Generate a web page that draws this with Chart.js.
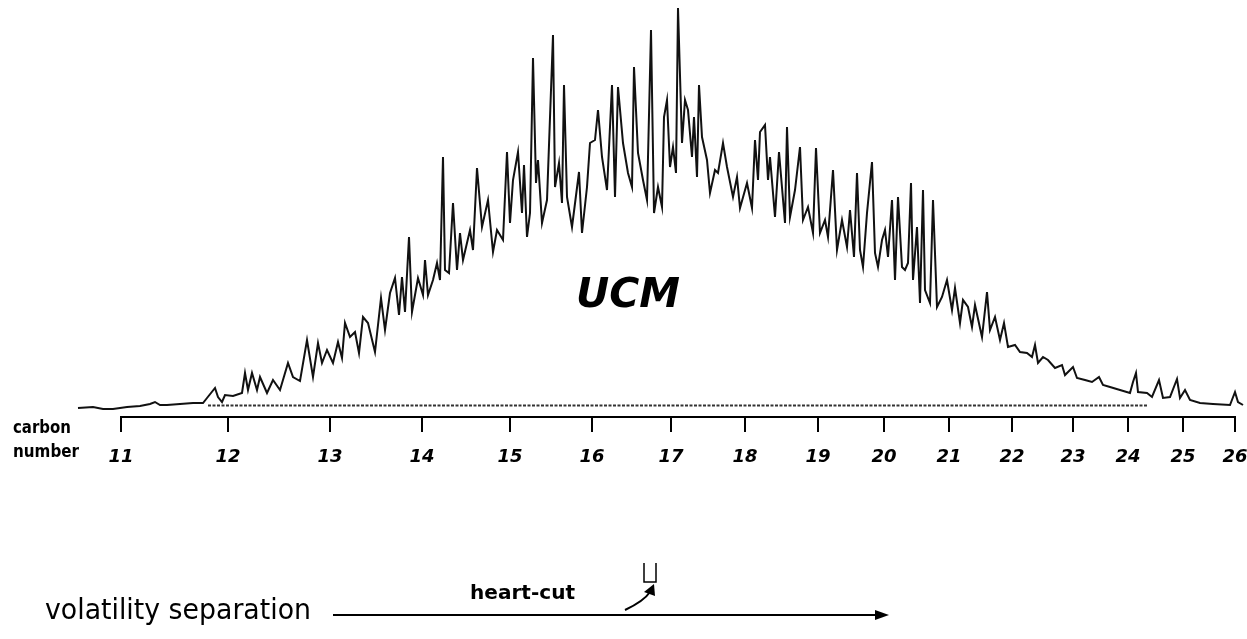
<!DOCTYPE html>
<html>
<head>
<meta charset="utf-8">
<script src="https://cdn.jsdelivr.net/npm/chart.js@4/dist/chart.umd.min.js"></script>
<style>
  html, body { margin: 0; padding: 0; background: #fff; }
  #wrap { width: 1247px; height: 639px; }
</style>
</head>
<body>
<div id="wrap"><canvas id="gc" width="1247" height="639"></canvas></div>
<script>
// carbon number scale (retention positions of the n-alkanes)
const carbonNumbers = [11, 12, 13, 14, 15, 16, 17, 18, 19, 20, 21, 22, 23, 24, 25, 26];
const carbonRT = [121, 228, 330, 422, 510, 592, 671, 745, 818, 884, 949, 1012, 1073, 1128, 1183, 1235];

// chromatogram trace
const retentionTime = [78,93,103,113,127,140,150,155,160,167,180,193,203,207,215,218,222,225,233,242,
  245,248,252,257,260,267,273,280,288,293,300,307,313,318,322,327,333,338,342,345,
  350,355,359,363,368,375,381,385,390,395,399,402,405,409,412,418,423,425,428,433,
  437,440,443,445,449,453,457,460,463,470,473,477,482,488,493,497,503,507,510,513,
  518,522,524,527,530,533,536,538,542,547,553,555,559,562,564,567,572,579,582,587,
  590,595,598,602,607,612,615,618,623,628,632,634,638,643,647,651,654,658,662,664,
  667,670,673,676,678,682,685,688,692,694,697,699,702,707,710,715,718,723,727,733,
  737,740,747,752,755,758,760,765,768,770,775,779,785,787,790,795,800,803,808,813,
  816,820,825,828,833,837,842,847,850,854,857,860,863,867,872,875,878,882,885,888,
  892,895,898,902,905,908,911,913,917,920,923,925,930,933,937,942,947,952,955,960,
  963,968,972,975,982,987,990,995,1000,1004,1008,1015,1020,1027,1032,1035,1038,1043,1048,1055,
  1062,1065,1073,1077,1085,1092,1099,1103,1110,1120,1130,1133,1136,1138,1147,1152,1159,1163,1170,1177,
  1180,1185,1190,1200,1213,1230,1235,1238,1243];
const intensity = [-1,0,-2,-2,0,1,3,5,2,2,3,4,4,9,19,10,5,12,11,14,
  34,17,34,17,30,14,27,17,44,30,26,67,30,64,44,57,44,65,49,84,
  70,75,54,90,84,55,109,77,114,129,92,130,95,170,95,129,112,147,112,127,
  144,127,250,137,134,204,137,174,147,177,157,239,180,207,155,177,167,255,184,227,
  255,194,242,170,194,349,224,247,184,207,372,220,244,204,322,210,180,235,174,220,
  264,267,297,250,217,322,210,320,264,234,220,340,254,227,207,377,194,220,200,290,
  307,240,260,234,399,264,307,297,250,290,230,322,270,247,214,237,234,264,240,210,
  230,199,224,199,267,227,275,282,227,250,190,255,184,280,190,217,260,187,200,174,
  259,174,187,170,237,157,187,160,197,150,234,157,140,194,245,154,140,167,177,150,
  207,127,210,140,137,144,224,127,180,104,217,117,104,207,100,110,127,97,119,84,
  107,100,80,102,70,115,77,90,67,84,60,62,55,54,50,62,44,50,47,39,
  42,32,40,29,27,25,30,22,20,17,14,25,34,15,14,10,27,9,10,28,
  9,17,7,4,3,2,15,5,2];

// dotted UCM baseline
const baselineRT = [208, 1148];
const baselineLevel = [1.5, 1.5];

const trace = retentionTime.map((t, i) => ({ x: t, y: intensity[i] }));
const baseline = baselineRT.map((t, i) => ({ x: t, y: baselineLevel[i] }));

// draw text squeezed/stretched to a given width
function fitText(ctx, text, x, y, width) {
  const w = ctx.measureText(text).width;
  ctx.save();
  ctx.translate(x, y);
  ctx.scale(width / w, 1);
  ctx.fillText(text, 0, 0);
  ctx.restore();
}

// axis line only between first and last carbon tick, plus the text/arrows
const annotations = {
  id: 'annotations',
  afterDraw(chart) {
    const ctx = chart.ctx;
    const xs = chart.scales.x;
    const yAxis = chart.chartArea.bottom;
    ctx.save();
    ctx.strokeStyle = '#000';
    ctx.fillStyle = '#000';
    ctx.lineWidth = 2;
    ctx.beginPath();
    ctx.moveTo(xs.getPixelForValue(carbonRT[0]) - 1, yAxis);
    ctx.lineTo(xs.getPixelForValue(carbonRT[carbonRT.length - 1]) + 1, yAxis);
    ctx.stroke();

    ctx.textBaseline = 'middle';
    ctx.textAlign = 'left';
    ctx.font = 'bold 18px "DejaVu Sans"';
    fitText(ctx, 'carbon', 13, 428, 58);
    fitText(ctx, 'number', 13, 452, 66);

    ctx.font = 'bold italic 40px "DejaVu Sans"';
    fitText(ctx, 'UCM', 576, 297, 104);

    // heart-cut bracket
    ctx.lineWidth = 1.5;
    ctx.beginPath();
    ctx.moveTo(644, 563);
    ctx.lineTo(644, 582);
    ctx.lineTo(656, 582);
    ctx.lineTo(656, 563);
    ctx.stroke();

    // curved arrow
    ctx.lineWidth = 2;
    ctx.beginPath();
    ctx.moveTo(625, 610);
    ctx.quadraticCurveTo(644, 601, 650, 592);
    ctx.stroke();
    ctx.beginPath();
    ctx.moveTo(654, 584);
    ctx.lineTo(644, 592);
    ctx.lineTo(655, 596);
    ctx.closePath();
    ctx.fill();

    ctx.font = 'bold 20px "DejaVu Sans"';
    fitText(ctx, 'heart-cut', 470, 594, 105);

    ctx.font = '29px "DejaVu Sans"';
    fitText(ctx, 'volatility separation', 45, 611, 266);

    // long arrow
    ctx.lineWidth = 1.8;
    ctx.beginPath();
    ctx.moveTo(333, 615);
    ctx.lineTo(878, 615);
    ctx.stroke();
    ctx.beginPath();
    ctx.moveTo(889, 615);
    ctx.lineTo(875, 610);
    ctx.lineTo(875, 620);
    ctx.closePath();
    ctx.fill();
    ctx.restore();
  }
};

new Chart(document.getElementById('gc'), {
  type: 'line',
  data: {
    datasets: [
      {
        label: 'signal',
        data: trace,
        borderColor: '#111',
        borderWidth: 2,
        pointRadius: 0,
        tension: 0,
        fill: false
      },
      {
        label: 'UCM baseline',
        data: baseline,
        borderColor: '#333',
        borderWidth: 2,
        borderDash: [3, 1.5],
        pointRadius: 0,
        fill: false
      }
    ]
  },
  options: {
    responsive: false,
    animation: false,
    devicePixelRatio: 1,
    layout: { padding: 0 },
    plugins: {
      legend: { display: false },
      tooltip: { enabled: false }
    },
    scales: {
      x: {
        type: 'linear',
        min: 0,
        max: 1247,
        afterBuildTicks: (scale) => {
          scale.ticks = carbonRT.map(v => ({ value: v }));
        },
        afterFit: (scale) => {
          scale.height = 222;
          scale.paddingLeft = 0;
          scale.paddingRight = 0;
        },
        border: { display: false },
        grid: {
          drawOnChartArea: false,
          drawTicks: true,
          tickLength: 15,
          color: '#000',
          lineWidth: 2
        },
        ticks: {
          autoSkip: false,
          maxRotation: 0,
          padding: 15,
          color: '#000',
          font: { family: 'DejaVu Sans', size: 18, style: 'italic', weight: 'bold' },
          callback: (value) => {
            const i = carbonRT.indexOf(value);
            return i >= 0 ? String(carbonNumbers[i]) : '';
          }
        }
      },
      y: {
        display: false,
        min: -10,
        max: 407
      }
    }
  },
  plugins: [annotations]
});
</script>
</body>
</html>
